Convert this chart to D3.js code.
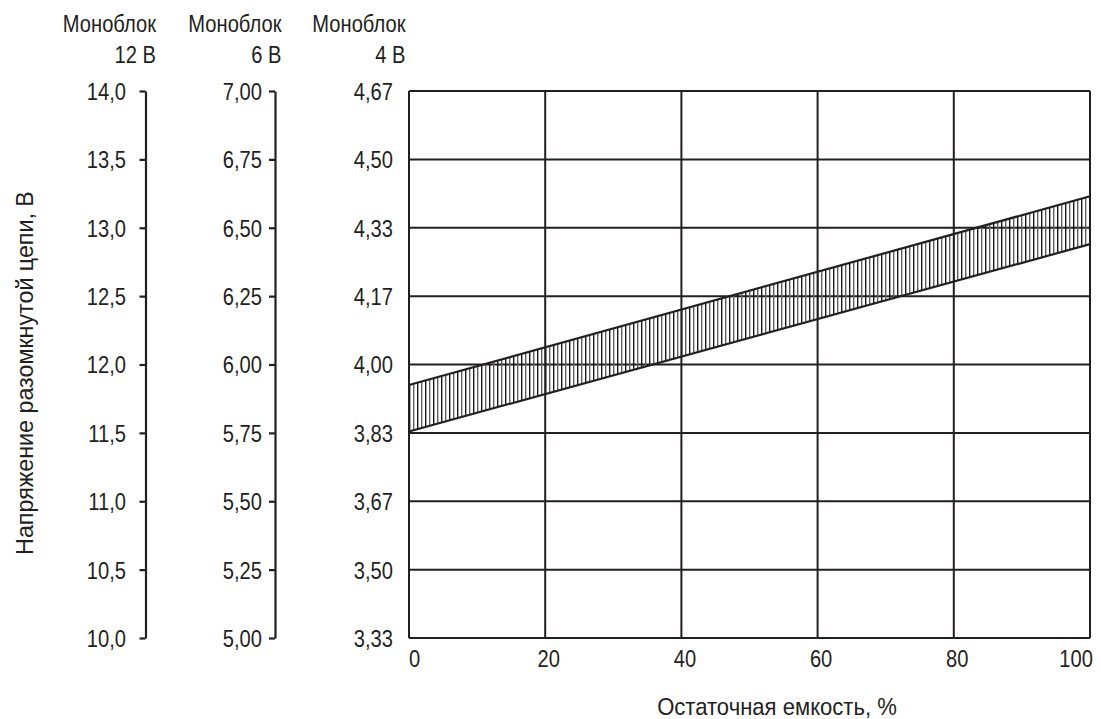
<!DOCTYPE html>
<html><head><meta charset="utf-8">
<script src="https://cdn.jsdelivr.net/npm/d3@7"></script>
<style>
html,body{margin:0;padding:0;background:#fff;}
svg text{font-family:"Liberation Sans",Arial,sans-serif;fill:#231f20;}
</style></head>
<body>
<svg id="chart" width="1101" height="719"></svg>
<script>
// ---- data ----
const capacity = [0, 100];                 // остаточная емкость, %
const upper12 = [11.85, 13.23];            // верхняя граница, моноблок 12 В
const lower12 = [11.51, 12.88];            // нижняя граница, моноблок 12 В
const xTicks = [0, 20, 40, 60, 80, 100];
const ticks12 = [10.0, 10.5, 11.0, 11.5, 12.0, 12.5, 13.0, 13.5, 14.0];
const labels12 = ["10,0","10,5","11,0","11,5","12,0","12,5","13,0","13,5","14,0"];
const ticks6 = [5.00, 5.25, 5.50, 5.75, 6.00, 6.25, 6.50, 6.75, 7.00];
const labels6 = ["5,00","5,25","5,50","5,75","6,00","6,25","6,50","6,75","7,00"];
const labels4 = ["3,33","3,50","3,67","3,83","4,00","4,17","4,33","4,50","4,67"];
const headers = [["Моноблок","12 В"],["Моноблок","6 В"],["Моноблок","4 В"]];
const yTitle = "Напряжение разомкнутой цепи, В";
const xTitle = "Остаточная емкость, %";

// ---- layout ----
const svg = d3.select("#chart");
const L = 409, R = 1090, T = 91, B = 638;
const ink = "#231f20";
const FS = 24, SX = 0.84;   // condensed look
const x = d3.scaleLinear().domain([0, 100]).range([L, R]);
const y12 = d3.scaleLinear().domain([10, 14]).range([B, T]);
const y6 = d3.scaleLinear().domain([5, 7]).range([B, T]);

function ntext(parent, tx, ty, str, anchor, rot, sx) {
  return parent.append("text")
    .attr("transform", `translate(${tx},${ty})${rot ? " rotate(" + rot + ")" : ""} scale(${sx || SX},1)`)
    .attr("text-anchor", anchor).attr("font-size", FS).text(str);
}

// hatch pattern
const defs = svg.append("defs");
const pat = defs.append("pattern").attr("id","hatch").attr("patternUnits","userSpaceOnUse")
  .attr("width",8).attr("height",10);
pat.append("rect").attr("x",1).attr("y",0).attr("width",1.4).attr("height",10).attr("fill","#1a1a1a");
pat.append("rect").attr("x",5).attr("y",0).attr("width",1.4).attr("height",10).attr("fill","#5e5e5e");

// grid
const g = svg.append("g");
g.selectAll("line.h").data(ticks12).join("line")
  .attr("x1", L).attr("x2", R).attr("y1", d => y12(d)).attr("y2", d => y12(d))
  .attr("stroke", ink).attr("stroke-width", 2);
g.selectAll("line.v").data(xTicks).join("line")
  .attr("x1", d => x(d)).attr("x2", d => x(d)).attr("y1", T).attr("y2", B)
  .attr("stroke", ink).attr("stroke-width", 2);

// band
const band = capacity.map((c, i) => ({c, u: upper12[i], l: lower12[i]}));
svg.append("path").datum(band)
  .attr("d", d3.area().x(d => x(d.c)).y0(d => y12(d.l)).y1(d => y12(d.u)))
  .attr("fill", "url(#hatch)");
svg.append("path").datum(band).attr("d", d3.line().x(d => x(d.c)).y(d => y12(d.u)))
  .attr("fill","none").attr("stroke",ink).attr("stroke-width",2.2);
svg.append("path").datum(band).attr("d", d3.line().x(d => x(d.c)).y(d => y12(d.l)))
  .attr("fill","none").attr("stroke",ink).attr("stroke-width",2.2);

// left axes
function styleTicks(ax, pad) {
  ax.attr("font-family", null).attr("font-size", null);
  ax.selectAll(".tick text")
    .attr("x", null).attr("dy", "0.35em")
    .attr("transform", `translate(${-pad},0) scale(${SX},1)`)
    .attr("font-size", FS).attr("fill", ink);
}
function sideAxis(xPos, scale, vals, labels, pad) {
  const ax = svg.append("g").attr("transform", `translate(${xPos},0)`)
    .call(d3.axisLeft(scale).tickValues(vals).tickSize(6).tickSizeOuter(0)
      .tickFormat((d, i) => labels[i]));
  ax.select(".domain").attr("stroke", ink).attr("stroke-width", 2.2);
  ax.selectAll(".tick line").attr("stroke", ink).attr("stroke-width", 2.2);
  styleTicks(ax, pad);
  return ax;
}
sideAxis(145.5, y12, ticks12, labels12, 19.5);
sideAxis(275, y6, ticks6, labels6, 13);
// 4 V axis on the plot left edge
const ax4 = svg.append("g").attr("transform", `translate(${L},0)`)
  .call(d3.axisLeft(y12).tickValues(ticks12).tickSize(0)
    .tickFormat((d, i) => labels4[i]));
ax4.select(".domain").remove();
styleTicks(ax4, 16);

// x tick labels
const xl = svg.append("g");
xTicks.forEach((d, i) => {
  const last = i === xTicks.length - 1;
  ntext(xl, i === 0 ? x(d) : last ? x(d) + 3 : x(d) + 3.5, 667, d,
        i === 0 ? "start" : last ? "end" : "middle");
});

// headers
const hx = [156, 281.5, 405.5];
headers.forEach((h, i) => {
  ntext(svg, hx[i], 32, h[0], "end");
  ntext(svg, hx[i], 63, h[1], "end");
});

// titles
ntext(svg, 33, 373, yTitle, "middle", -90, 0.97);
ntext(svg, 777, 715, xTitle, "middle", 0, 0.92);
</script>
</body></html>
